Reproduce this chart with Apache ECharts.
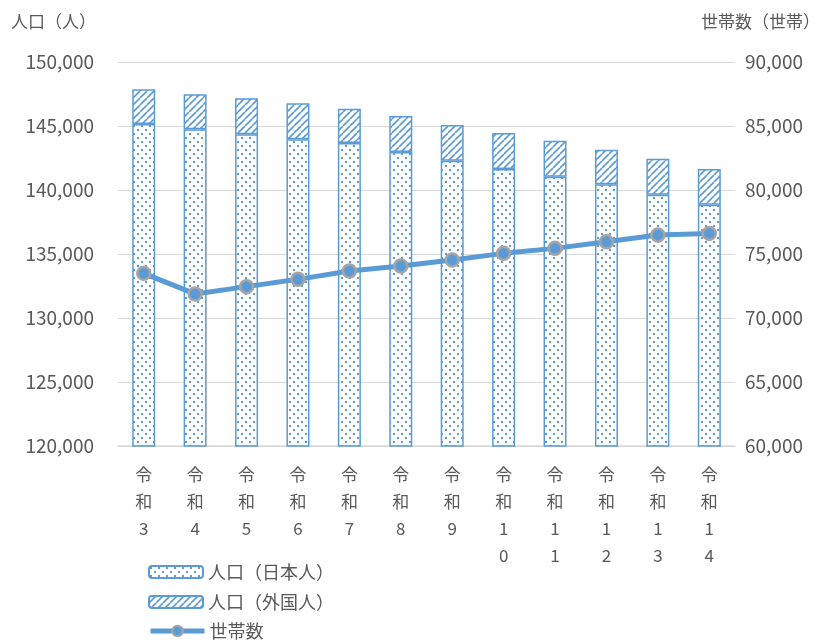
<!DOCTYPE html>
<html><head><meta charset="utf-8">
<script src="https://cdn.jsdelivr.net/npm/echarts@6/dist/echarts.min.js"></script>
<style>html,body{margin:0;padding:0;background:#fff}#c{width:829px;height:643px}</style>
</head><body><div id="c"></div>
<script>
const categories = ['令和3','令和4','令和5','令和6','令和7','令和8','令和9','令和10','令和11','令和12','令和13','令和14'];
const japanese = [145160,144740,144350,143960,143670,142970,142290,141640,141040,140450,139630,138850];
const foreign  = [2710,2740,2810,2810,2680,2810,2790,2810,2810,2700,2820,2790];
const households = [73490,71880,72450,73020,73670,74060,74530,75050,75440,75960,76480,76610];
const leftTicks = {min:120000, max:150000, interval:5000};
const rightTicks = {min:60000, max:90000, interval:5000};
const seriesNames = ['人口（日本人）','人口（外国人）','世帯数'];

const BLUE = '#5B9BD5';
function dotPattern(){
  const c = document.createElement('canvas'); c.width = 8; c.height = 8;
  const g = c.getContext('2d');
  g.fillStyle = '#fff'; g.fillRect(0,0,8,8);
  g.fillStyle = BLUE;
  g.fillRect(1,1,2,2); g.fillRect(5,5,2,2);
  return c;
}
function hatchPattern(){
  const s = 7;
  const c = document.createElement('canvas'); c.width = s; c.height = s;
  const g = c.getContext('2d');
  g.fillStyle = '#fff'; g.fillRect(0,0,s,s);
  g.strokeStyle = BLUE; g.lineWidth = 1.6;
  for (let k=-1;k<=1;k++){
    g.beginPath(); g.moveTo(k*s, s); g.lineTo(k*s+s, 0); g.stroke();
  }
  return c;
}
const FONT = '"Noto Sans CJK JP", "Noto Sans", sans-serif';
const TXT = '#595959';
const fmt = v => v.toLocaleString('en-US');
const legendBase = {orient:'vertical', left:143, itemWidth:54, itemHeight:12,
  textStyle:{fontSize:18, color:TXT, fontFamily:FONT}};

const chart = echarts.init(document.getElementById('c'), null, {renderer:'canvas'});
chart.setOption({
  animation:false,
  textStyle:{fontFamily:FONT},
  title:[
    {text:'人口（人）', left:6, top:8, textStyle:{fontSize:17, fontWeight:'normal', color:TXT, fontFamily:FONT}},
    {text:'世帯数（世帯）', right:4, top:8, textStyle:{fontSize:17, fontWeight:'normal', color:TXT, fontFamily:FONT}}
  ],
  grid:{left:118, right:94, top:62, bottom:197, containLabel:false},
  legend:[
    Object.assign({top:558, data:[seriesNames[0]]}, legendBase),
    Object.assign({top:588, data:[seriesNames[1]]}, legendBase),
    Object.assign({}, legendBase, {top:617, data:[seriesNames[2]], itemHeight:13,
      lineStyle:{width:5, color:BLUE}})
  ],
  xAxis:{
    type:'category', data:categories,
    axisLine:{lineStyle:{color:'#D9D9D9', width:1.5}},
    axisTick:{show:false},
    axisLabel:{color:TXT, fontSize:17, lineHeight:27, margin:15, interval:0,
      formatter: v => v.split('').join('\n')}
  },
  yAxis:[
    {type:'value', min:leftTicks.min, max:leftTicks.max, interval:leftTicks.interval,
     axisLine:{show:false}, axisTick:{show:false},
     splitLine:{lineStyle:{color:'#D9D9D9'}},
     axisLabel:{color:TXT, fontSize:19, margin:24, formatter:fmt}},
    {type:'value', min:rightTicks.min, max:rightTicks.max, interval:rightTicks.interval,
     axisLine:{show:false}, axisTick:{show:false}, splitLine:{show:false},
     axisLabel:{color:TXT, fontSize:19, margin:10, formatter:fmt}}
  ],
  series:[
    {name:seriesNames[0], type:'bar', stack:'p', data:japanese, barWidth:23,
     itemStyle:{color:{image:dotPattern(), repeat:'repeat'}, borderColor:BLUE, borderWidth:1.5}},
    {name:seriesNames[1], type:'bar', stack:'p', data:foreign, barWidth:23,
     itemStyle:{color:{image:hatchPattern(), repeat:'repeat'}, borderColor:BLUE, borderWidth:1.5}},
    {name:seriesNames[2], type:'line', yAxisIndex:1, data:households, z:5,
     symbol:'circle', symbolSize:13,
     lineStyle:{color:BLUE, width:5},
     itemStyle:{color:BLUE, borderColor:'#A5A5A5', borderWidth:2.5}}
  ]
});
</script></body></html>
